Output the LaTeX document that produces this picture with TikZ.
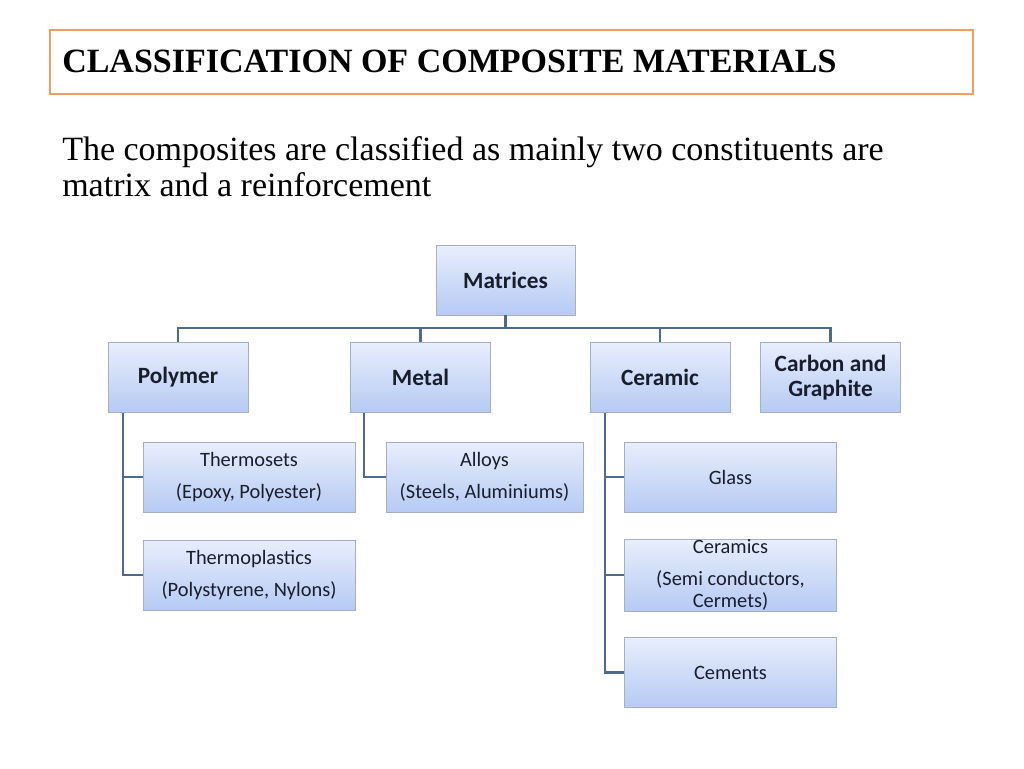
\documentclass[tikz,border=0pt]{standalone}
\usepackage{fontspec}
\setmainfont{Liberation Serif}
\newfontfamily\boxfont{Carlito}
\usepackage{tikz}
\usetikzlibrary{positioning}
\definecolor{titleorange}{RGB}{238,158,98}
\definecolor{linkblue}{RGB}{79,106,140}
\definecolor{boxtop}{RGB}{232,238,252}
\definecolor{boxbot}{RGB}{182,202,244}
\definecolor{boxedge}{RGB}{168,176,192}
\definecolor{boxtext}{RGB}{25,30,45}

\begin{document}
\begin{tikzpicture}[x=0.75pt,y=-0.75pt,
  catbox/.style={draw=boxedge,top color=boxtop,bottom color=boxbot,align=center,text=boxtext,
    font=\boxfont\bfseries\fontsize{17.5}{19}\selectfont,minimum width=105pt,minimum height=52.5pt,inner sep=0pt},
  subbox/.style={draw=boxedge,top color=boxtop,bottom color=boxbot,align=center,text=boxtext,
    font=\boxfont\fontsize{15.3}{24}\selectfont,minimum width=159pt,minimum height=52.5pt,inner sep=0pt},
  link/.style={draw=linkblue,line width=1.8pt}]
\useasboundingbox[fill=white] (0,0) rectangle (1024,768);
% heading
\draw[titleorange,line width=1.6pt] (50,30) rectangle (973,94);
\node[anchor=base west,inner sep=0pt,font=\bfseries\fontsize{25.5}{30}\selectfont] (title) at (62,72) {CLASSIFICATION OF COMPOSITE MATERIALS};
\node[anchor=base west,inner sep=0pt,font=\fontsize{25.5}{30}\selectfont] (desca) at (62,160) {The composites are classified as mainly two constituents are};
\node[anchor=base west,inner sep=0pt,font=\fontsize{25.5}{30}\selectfont] (descb) at (62,196) {matrix and a reinforcement};
% tree
\node[catbox,minimum width=104pt] (mat) at (505.5,280) {Matrices};
\node[catbox] (poly) at (178,377.5) {Polymer};
\node[catbox] (metal) at (420.5,377.5) {Metal};
\node[catbox] (ceram) at (660,377.5) {Ceramic};
\node[catbox] (carb) at (830.5,377.5) {Carbon and\\Graphite};
\node[subbox] (tset) at (249,477) {Thermosets\\(Epoxy, Polyester)};
\node[subbox] (tplas) at (249,575) {Thermoplastics\\(Polystyrene, Nylons)};
\node[subbox,minimum width=147.75pt] (alloy) at (484.5,477) {Alloys\\(Steels, Aluminiums)};
\node[subbox] (glass) at (730.5,477) {Glass};
\node[subbox] (cmics) at (730.5,575) {Ceramics\\(Semi conductors,\\[-7pt]Cermets)};
\node[subbox] (cement) at (730.5,672.5) {Cements};
\draw[link] (mat.south) -- ++(0,13) -| (poly.north);
\draw[link] (mat.south) -- ++(0,13) -| (metal.north);
\draw[link] (mat.south) -- ++(0,13) -| (ceram.north);
\draw[link] (mat.south) -- ++(0,13) -| (carb.north);
\draw[link] ([xshift=11.25pt]poly.south west) |- (tset.west);
\draw[link] ([xshift=11.25pt]poly.south west) |- (tplas.west);
\draw[link] ([xshift=10.5pt]metal.south west) |- (alloy.west);
\draw[link] ([xshift=11.25pt]ceram.south west) |- (glass.west);
\draw[link] ([xshift=11.25pt]ceram.south west) |- (cmics.west);
\draw[link] ([xshift=11.25pt]ceram.south west) |- (cement.west);
\end{tikzpicture}
\end{document}
